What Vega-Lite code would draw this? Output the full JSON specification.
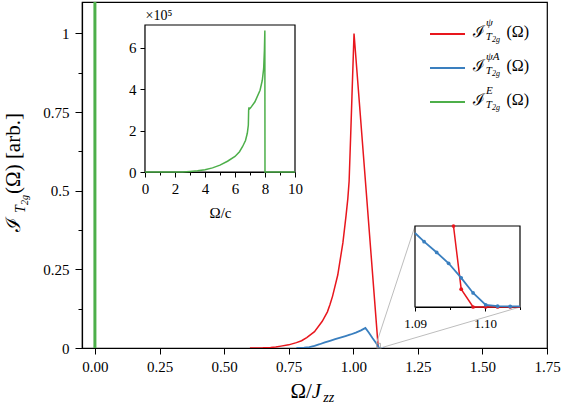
{
  "$schema": "https://vega.github.io/schema/vega-lite/v6.json",
  "width": 465,
  "height": 346,
  "autosize": {"type": "none"},
  "padding": {"left": 82, "top": 2, "right": 14, "bottom": 57},
  "config": {
    "font": "'Liberation Serif', 'Times New Roman', Times, serif",
    "view": {"stroke": "black", "strokeWidth": 1.2},
    "axis": {"grid": false, "domainColor": "black", "tickColor": "black", "labelColor": "black", "titleColor": "black", "labelFont": "'Liberation Serif', 'Times New Roman', Times, serif", "titleFont": "'Liberation Serif', 'Times New Roman', Times, serif", "titleFontWeight": "normal", "domainWidth": 1.2, "tickWidth": 1, "labelFlush": false, "labelOverlap": false},
    "text": {"font": "'Liberation Serif', 'Times New Roman', Times, serif", "color": "black"}
  },
  "datasets": {
    "red": [
      {"w": 0.6, "v": 0}, {"w": 0.65, "v": 0.0005}, {"w": 0.68, "v": 0.0015}, {"w": 0.70, "v": 0.003}, {"w": 0.72, "v": 0.006}, {"w": 0.75, "v": 0.010}, {"w": 0.78, "v": 0.017}, {"w": 0.80, "v": 0.023}, {"w": 0.82, "v": 0.033}, {"w": 0.85, "v": 0.052}, {"w": 0.88, "v": 0.085}, {"w": 0.90, "v": 0.115}, {"w": 0.91, "v": 0.138}, {"w": 0.92, "v": 0.165}, {"w": 0.94, "v": 0.232}, {"w": 0.96, "v": 0.335}, {"w": 0.972, "v": 0.42}, {"w": 0.979, "v": 0.475}, {"w": 0.984, "v": 0.53}, {"w": 0.99, "v": 0.675}, {"w": 0.995, "v": 0.8}, {"w": 1.003, "v": 1.0}, {"w": 1.05, "v": 0.5}, {"w": 1.0948, "v": 0.0219}, {"w": 1.0966, "v": 0.0033}, {"w": 1.0983, "v": 0}, {"w": 1.1001, "v": 0}, {"w": 1.12, "v": 0}
    ],
    "blue": [
      {"w": 0.78, "v": 0}, {"w": 0.81, "v": 0.001}, {"w": 0.83, "v": 0.003}, {"w": 0.85, "v": 0.007}, {"w": 0.87, "v": 0.012}, {"w": 0.89, "v": 0.018}, {"w": 0.91, "v": 0.023}, {"w": 0.93, "v": 0.028}, {"w": 0.95, "v": 0.033}, {"w": 0.97, "v": 0.038}, {"w": 0.99, "v": 0.043}, {"w": 1.01, "v": 0.049}, {"w": 1.03, "v": 0.056}, {"w": 1.047, "v": 0.064}, {"w": 1.06, "v": 0.049}, {"w": 1.075, "v": 0.031}, {"w": 1.0896, "v": 0.0145}, {"w": 1.0913, "v": 0.0121}, {"w": 1.0931, "v": 0.0101}, {"w": 1.0948, "v": 0.0081}, {"w": 1.0966, "v": 0.0054}, {"w": 1.0983, "v": 0.0026}, {"w": 1.1001, "v": 0.0004}, {"w": 1.1018, "v": 0.00015}, {"w": 1.1036, "v": 0.0001}, {"w": 1.12, "v": 0.0001}
    ],
    "greenMain": [{"w": 0, "v": 0}, {"w": 0, "v": 2}],
    "greenInset": [
      {"w": 0, "v": 0}, {"w": 1, "v": 0}, {"w": 2, "v": 0}, {"w": 2.5, "v": 500}, {"w": 3, "v": 3000}, {"w": 3.5, "v": 6000}, {"w": 4, "v": 11000}, {"w": 4.5, "v": 20000}, {"w": 5, "v": 33000}, {"w": 5.5, "v": 52000}, {"w": 6, "v": 75000}, {"w": 6.3, "v": 98000}, {"w": 6.5, "v": 122000}, {"w": 6.7, "v": 152000}, {"w": 6.82, "v": 187000}, {"w": 6.89, "v": 227000}, {"w": 6.91, "v": 299000}, {"w": 6.93, "v": 312000}, {"w": 6.96, "v": 304000}, {"w": 7.04, "v": 310000}, {"w": 7.33, "v": 339000}, {"w": 7.67, "v": 395000}, {"w": 7.82, "v": 443000}, {"w": 7.91, "v": 499000}, {"w": 7.96, "v": 587000}, {"w": 7.99, "v": 683000}, {"w": 8.0, "v": 0}, {"w": 10, "v": 0}
    ],
    "zoomBlue": [
      {"w": 1.09, "v": 0.0137}, {"w": 1.0913, "v": 0.0121}, {"w": 1.0931, "v": 0.0101}, {"w": 1.0948, "v": 0.0081}, {"w": 1.0966, "v": 0.0054}, {"w": 1.0983, "v": 0.0026}, {"w": 1.1001, "v": 0.0004}, {"w": 1.1018, "v": 0.00015}, {"w": 1.1036, "v": 0.0001}, {"w": 1.105, "v": 0.0001}
    ],
    "zoomRed": [
      {"w": 1.0955, "v": 0.015}, {"w": 1.0966, "v": 0.0033}, {"w": 1.0983, "v": 0}, {"w": 1.1001, "v": 0}, {"w": 1.1018, "v": 0}, {"w": 1.1036, "v": 0}, {"w": 1.105, "v": 0}
    ],
    "connectors": [
      {"w": 1.09, "v": 0.015, "w2": 1.2391, "v2": 0.3879},
      {"w": 1.105, "v": 0, "w2": 1.6456, "v2": 0.1303}
    ],
    "legend": [
      {"key": "psi", "sup": "ψ"}, {"key": "psiA", "sup": "ψA"}, {"key": "E", "sup": "E"}
    ]
  },
  "layer": [
    {
      "layer": [
        {
          "data": {"name": "red"},
          "mark": {"type": "line", "color": "#e8161d", "strokeWidth": 1.5, "clip": true},
          "encoding": {
            "x": {"field": "w", "type": "quantitative", "scale": {"domain": [-0.05, 1.75], "nice": false, "zero": false},
              "axis": {"orient": "bottom", "title": null, "values": [0, 0.125, 0.25, 0.375, 0.5, 0.625, 0.75, 0.875, 1, 1.125, 1.25, 1.375, 1.5, 1.625, 1.75],
                "labelExpr": "abs(datum.value*4-round(datum.value*4))<0.001 ? format(datum.value,'.2f') : ''",
                "tickSize": {"condition": {"test": "abs(datum.value*4-round(datum.value*4))>0.001", "value": 3.5}, "value": 6},
                "labelFontSize": 15, "labelPadding": 5}},
            "y": {"field": "v", "type": "quantitative", "scale": {"domain": [0, 1.1], "nice": false, "zero": false},
              "axis": {"orient": "left", "title": null, "values": [0, 0.125, 0.25, 0.375, 0.5, 0.625, 0.75, 0.875, 1],
                "labelExpr": "abs(datum.value*4-round(datum.value*4))<0.001 ? format(datum.value,'~g') : ''",
                "tickSize": {"condition": {"test": "abs(datum.value*4-round(datum.value*4))>0.001", "value": 4}, "value": 7},
                "labelFontSize": 15, "labelPadding": 6}}
          }
        },
        {
          "data": {"name": "blue"},
          "mark": {"type": "line", "color": "#3a7fbf", "strokeWidth": 1.8, "clip": true},
          "encoding": {
            "x": {"field": "w", "type": "quantitative", "axis": {"title": null}},
            "y": {"field": "v", "type": "quantitative", "axis": {"title": null}}
          }
        },
        {
          "data": {"name": "greenMain"},
          "mark": {"type": "line", "color": "#4daf4a", "strokeWidth": 3, "clip": true},
          "encoding": {
            "x": {"field": "w", "type": "quantitative", "axis": {"title": null}},
            "y": {"field": "v", "type": "quantitative", "axis": {"title": null}}
          }
        },
        {
          "data": {"name": "connectors"},
          "mark": {"type": "rule", "color": "#bdbdbd", "strokeWidth": 1},
          "encoding": {
            "x": {"field": "w", "type": "quantitative", "axis": {"title": null}},
            "y": {"field": "v", "type": "quantitative", "axis": {"title": null}},
            "x2": {"field": "w2"},
            "y2": {"field": "v2"}
          }
        },
        {
          "data": {"values": [{}]},
          "mark": {"type": "rect", "fill": null, "stroke": "#9e9e9e", "strokeWidth": 0.8},
          "encoding": {
            "x": {"datum": 1.09, "axis": {"title": null}}, "x2": {"datum": 1.105},
            "y": {"datum": 0, "axis": {"title": null}}, "y2": {"datum": 0.015}
          }
        },
        {
          "data": {"values": [{}]},
          "mark": {"type": "text", "text": "ℐ", "font": "DejaVu Serif", "angle": 270, "align": "left", "baseline": "alphabetic", "fontSize": 20},
          "encoding": {"x": {"datum": -0.2900, "axis": {"title": null}}, "y": {"datum": 0.3688, "axis": {"title": null}}}
        },
        {
          "data": {"values": [{}]},
          "mark": {"type": "text", "text": "T", "fontStyle": "italic", "angle": 270, "align": "left", "baseline": "alphabetic", "fontSize": 14},
          "encoding": {"x": {"datum": -0.2725, "axis": {"title": null}}, "y": {"datum": 0.4292, "axis": {"title": null}}}
        },
        {
          "data": {"values": [{}]},
          "mark": {"type": "text", "text": "2g", "fontStyle": "italic", "angle": 270, "align": "left", "baseline": "alphabetic", "fontSize": 10},
          "encoding": {"x": {"datum": -0.2606, "axis": {"title": null}}, "y": {"datum": 0.4546, "axis": {"title": null}}}
        },
        {
          "data": {"values": [{}]},
          "mark": {"type": "text", "text": "(Ω) [arb.]", "angle": 270, "align": "left", "baseline": "alphabetic", "fontSize": 21},
          "encoding": {"x": {"datum": -0.2919, "axis": {"title": null}}, "y": {"datum": 0.4897, "axis": {"title": null}}}
        },
        {
          "data": {"values": [{}]},
          "mark": {"type": "text", "text": "Ω/", "align": "right", "baseline": "alphabetic", "fontSize": 21},
          "encoding": {"x": {"datum": 0.8397, "axis": {"title": null}}, "y": {"datum": -0.1599, "axis": {"title": null}}}
        },
        {
          "data": {"values": [{}]},
          "mark": {"type": "text", "text": "J", "fontStyle": "italic", "align": "left", "baseline": "alphabetic", "fontSize": 21},
          "encoding": {"x": {"datum": 0.8397, "axis": {"title": null}}, "y": {"datum": -0.1599, "axis": {"title": null}}}
        },
        {
          "data": {"values": [{}]},
          "mark": {"type": "text", "text": "zz", "fontStyle": "italic", "align": "left", "baseline": "alphabetic", "fontSize": 14},
          "encoding": {"x": {"datum": 0.884, "axis": {"title": null}}, "y": {"datum": -0.1717, "axis": {"title": null}}}
        }
      ]
    },
    {
      "layer": [
        {
          "data": {"values": [{}]},
          "mark": {"type": "rect", "fill": "white", "stroke": "black", "strokeWidth": 1.2},
          "encoding": {
            "x": {"datum": 0, "type": "quantitative", "scale": {"domain": [0, 10], "range": [63, 213], "nice": false, "zero": false},
              "axis": {"orient": "bottom", "offset": -176, "values": [0, 1, 2, 3, 4, 5, 6, 7, 8, 9, 10],
                "labelExpr": "datum.value % 2 == 0 ? datum.label : ''",
                "tickSize": {"condition": {"test": "datum.value % 2 != 0", "value": 3}, "value": 5},
                "labelFontSize": 15, "labelPadding": 4, "title": "Ω/c", "titleFontSize": 15, "titlePadding": 9}},
            "x2": {"datum": 10},
            "y": {"datum": 0, "type": "quantitative", "scale": {"domain": [0, 710000], "range": [170, 23], "nice": false, "zero": false},
              "axis": {"orient": "left", "offset": -63, "values": [0, 200000, 400000, 600000],
                "labelExpr": "format(datum.value/100000,'d')", "tickSize": 5, "labelFontSize": 15, "labelPadding": 4,
                "title": "×10⁵", "titleAngle": 0, "titleAlign": "left", "titleBaseline": "alphabetic", "titleX": 0, "titleY": 17, "titleFontSize": 14}},
            "y2": {"datum": 710000}
          }
        },
        {
          "data": {"name": "greenInset"},
          "mark": {"type": "line", "color": "#4daf4a", "strokeWidth": 1.5},
          "encoding": {
            "x": {"field": "w", "type": "quantitative", "axis": {"title": "Ω/c"}},
            "y": {"field": "v", "type": "quantitative", "axis": {"title": "×10⁵"}},
            "order": {"value": null}
          }
        }
      ]
    },
    {
      "layer": [
        {
          "data": {"values": [{}]},
          "mark": {"type": "rect", "fill": "white", "stroke": "black", "strokeWidth": 1.2},
          "encoding": {
            "x": {"datum": 1.09, "type": "quantitative", "scale": {"domain": [1.09, 1.105], "range": [333, 438], "nice": false, "zero": false},
              "axis": {"orient": "bottom", "offset": -41, "values": [1.09, 1.095, 1.1, 1.105],
                "labelExpr": "abs(datum.value*100-round(datum.value*100))<0.001 ? format(datum.value,'.2f') : ''",
                "tickSize": {"condition": {"test": "abs(datum.value*100-round(datum.value*100))>0.001", "value": 2.5}, "value": 4},
                "labelFontSize": 13, "labelPadding": 6, "title": null}},
            "x2": {"datum": 1.105},
            "y": {"datum": 0, "type": "quantitative", "scale": {"domain": [0, 0.015], "range": [305, 224], "nice": false, "zero": false}, "axis": null},
            "y2": {"datum": 0.015}
          }
        },
        {
          "data": {"name": "zoomRed"},
          "mark": {"type": "line", "color": "#e8161d", "strokeWidth": 1.5},
          "encoding": {
            "x": {"field": "w", "type": "quantitative", "axis": {"title": null}},
            "y": {"field": "v", "type": "quantitative", "axis": null}
          }
        },
        {
          "data": {"name": "zoomRed"},
          "transform": [{"filter": "datum.w > 1.0905 && datum.w < 1.1045"}],
          "mark": {"type": "point", "filled": true, "color": "#e8161d", "size": 14, "opacity": 1},
          "encoding": {
            "x": {"field": "w", "type": "quantitative", "axis": {"title": null}},
            "y": {"field": "v", "type": "quantitative", "axis": null}
          }
        },
        {
          "data": {"name": "zoomBlue"},
          "mark": {"type": "line", "color": "#3a7fbf", "strokeWidth": 1.8},
          "encoding": {
            "x": {"field": "w", "type": "quantitative", "axis": {"title": null}},
            "y": {"field": "v", "type": "quantitative", "axis": null}
          }
        },
        {
          "data": {"name": "zoomBlue"},
          "transform": [{"filter": "datum.w > 1.0905 && datum.w < 1.1045"}],
          "mark": {"type": "point", "filled": true, "color": "#3a7fbf", "size": 14, "opacity": 1},
          "encoding": {
            "x": {"field": "w", "type": "quantitative", "axis": {"title": null}},
            "y": {"field": "v", "type": "quantitative", "axis": null}
          }
        }
      ]
    },
    {
      "data": {"name": "legend"},
      "layer": [
        {
          "mark": {"type": "rule", "strokeWidth": 1.8},
          "encoding": {
            "x": {"datum": 0, "type": "quantitative", "scale": {"domain": [0, 1], "range": [348, 383], "nice": false, "zero": false}, "axis": null},
            "x2": {"datum": 1},
            "y": {"field": "key", "type": "nominal", "scale": {"type": "point", "domain": ["psi", "psiA", "E"], "range": [32, 100], "padding": 0}, "axis": null},
            "color": {"field": "key", "type": "nominal", "scale": {"domain": ["psi", "psiA", "E"], "range": ["#e8161d", "#3a7fbf", "#4daf4a"]}, "legend": null}
          }
        },
        {
          "mark": {"type": "text", "text": "ℐ", "font": "DejaVu Serif", "align": "left", "baseline": "alphabetic", "fontSize": 16, "dy": 3},
          "encoding": {"x": {"datum": 1.229, "axis": null}, "y": {"field": "key", "type": "nominal", "axis": null}}
        },
        {
          "mark": {"type": "text", "fontStyle": "italic", "align": "left", "baseline": "alphabetic", "fontSize": 11, "dy": -8},
          "encoding": {"x": {"datum": 1.6, "axis": null}, "y": {"field": "key", "type": "nominal", "axis": null}, "text": {"field": "sup"}}
        },
        {
          "mark": {"type": "text", "text": "T", "fontStyle": "italic", "align": "left", "baseline": "alphabetic", "fontSize": 11, "dy": 6},
          "encoding": {"x": {"datum": 1.59, "axis": null}, "y": {"field": "key", "type": "nominal", "axis": null}}
        },
        {
          "mark": {"type": "text", "text": "2g", "fontStyle": "italic", "align": "left", "baseline": "alphabetic", "fontSize": 8, "dy": 8},
          "encoding": {"x": {"datum": 1.77, "axis": null}, "y": {"field": "key", "type": "nominal", "axis": null}}
        },
        {
          "mark": {"type": "text", "text": "(Ω)", "align": "left", "baseline": "alphabetic", "fontSize": 16, "dy": 3},
          "encoding": {"x": {"datum": 2.186, "axis": null}, "y": {"field": "key", "type": "nominal", "axis": null}}
        }
      ]
    }
  ],
  "resolve": {
    "scale": {"x": "independent", "y": "independent"},
    "axis": {"x": "independent", "y": "independent"}
  }
}
